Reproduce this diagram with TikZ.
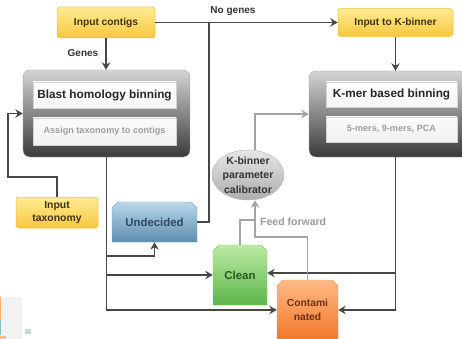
\documentclass[tikz,border=0pt]{standalone}
\usepackage{fontspec}
\setmainfont{Liberation Sans}
\usetikzlibrary{arrows.meta,shapes.geometric,shapes.misc,calc}
\definecolor{ytop}{HTML}{FFEB94}
\definecolor{ybot}{HTML}{F7C73E}
\definecolor{yedge}{HTML}{EDBE3A}
\definecolor{ytext}{HTML}{3E3414}
\definecolor{gtop}{HTML}{D4D4D4}
\definecolor{gbot}{HTML}{3A3A3A}
\definecolor{btop}{HTML}{B9D8EC}
\definecolor{bbot}{HTML}{5C8DB0}
\definecolor{btext}{HTML}{2C4A60}
\definecolor{ctop}{HTML}{BDEBA5}
\definecolor{cbot}{HTML}{5CB548}
\definecolor{ctext}{HTML}{2A5622}
\definecolor{otop}{HTML}{FFBA86}
\definecolor{obot}{HTML}{F27628}
\definecolor{otext}{HTML}{6E300C}
\definecolor{linedark}{HTML}{474747}
\definecolor{linegray}{HTML}{A3A3A3}
\definecolor{eltop}{HTML}{E6E6E6}
\definecolor{elbot}{HTML}{ADADAD}
\tikzset{
  yellowbox/.style={rectangle, rounded corners=3pt, top color=ytop, bottom color=ybot, draw=yedge, line width=0.5pt,
    text=ytext, font=\fontsize{10.2}{12.5}\selectfont\bfseries, align=center, inner sep=0pt},
  outerbox/.style={rectangle, rounded corners=7pt, top color=gtop, bottom color=gbot, draw=gray!70, line width=0.4pt, inner sep=0pt},
  titlebox/.style={rectangle, top color=white, bottom color=gray!8, draw=gray!35, line width=0.4pt, inner sep=0pt,
    text=black!85, font=\fontsize{11.8}{14}\selectfont\bfseries},
  subbox/.style={rectangle, top color=gray!3, bottom color=gray!12, draw=gray!35, line width=0.4pt, inner sep=0pt,
    text=gray!75, font=\fontsize{9.1}{11}\selectfont\bfseries},
  resultbox/.style={chamfered rectangle, chamfered rectangle corners={north west,north east},
    chamfered rectangle xsep=3pt, chamfered rectangle ysep=3pt, inner sep=0pt, align=center,
    font=\fontsize{11.4}{14.5}\selectfont\bfseries},
  calfont/.style={align=center, text=black!80, inner sep=0pt, font=\fontsize{10.5}{14.5}\selectfont\bfseries},
  conn/.style={draw=linedark, line width=1.9pt},
  arr/.style={conn, -{Stealth[length=7.5pt,width=8.5pt,inset=2.5pt]}},
  gconn/.style={draw=linegray, line width=1.9pt},
  garr/.style={gconn, -{Stealth[length=7.5pt,width=8.5pt,inset=2.5pt]}},
  lbl/.style={text=black!80, font=\fontsize{10}{12}\selectfont\bfseries, inner sep=0pt},
  glbl/.style={text=gray!80, font=\fontsize{10.5}{12}\selectfont\bfseries, inner sep=0pt},
}
\begin{document}
\begin{tikzpicture}[x=1pt,y=-1pt]
\clip (0,0) rectangle (462,339);
\fill[white] (0,0) rectangle (462,339);
% faint artifact at bottom left
\fill[gray!10] (0,297) rectangle (22,339);
\fill[orange!60] (0,297) rectangle (1.2,320);
\fill[teal!50] (0,320) rectangle (1.2,335);
\fill[orange!50] (0,336) rectangle (6,339);
\fill[teal!25] (25,329) rectangle (31,334);

% input boxes
\node[yellowbox, minimum width=98pt, minimum height=31pt] (ic) at (106,22.5) {Input contigs};
\node[yellowbox, minimum width=115pt, minimum height=28pt] (ik) at (395.5,22.5) {Input to K-binner};
\node[yellowbox, minimum width=82pt, minimum height=31pt, font=\fontsize{10.4}{13}\selectfont\bfseries] (tax) at (57,212.5) {Input\\taxonomy};

% blast box
\node[outerbox, minimum width=167pt, minimum height=87pt] (blast) at (106.5,113.5) {};
\node[titlebox, minimum width=143pt, minimum height=26pt] (blastt) at (104.5,95) {Blast homology binning};
\node[subbox, minimum width=143pt, minimum height=27pt] (blasts) at (104.5,131.5) {Assign taxonomy to contigs};

% kmer box
\node[outerbox, minimum width=166pt, minimum height=86pt] (kmer) at (392,114) {};
\node[titlebox, minimum width=131pt, minimum height=25pt] (kmert) at (391.5,94.5) {K-mer based binning};
\node[subbox, minimum width=131pt, minimum height=25pt] (kmers) at (391.5,129.5) {5-mers, 9-mers, PCA};

% calibrator
\node[ellipse, minimum width=72pt, minimum height=50pt, inner sep=0pt, top color=eltop, bottom color=elbot,
  draw=gray!55, line width=0.5pt,
  label={[calfont]center:K-binner\\parameter\\calibrator}] (ell) at (248,175) {};

% result boxes
\node[resultbox, minimum width=85pt, minimum height=40pt, top color=btop, bottom color=bbot, draw=bbot!80, text=btext] (und) at (154.5,222) {Undecided};
\node[resultbox, minimum width=54pt, minimum height=60pt, top color=ctop, bottom color=cbot, draw=cbot!80, text=ctext] (clean) at (240,275) {Clean};
\node[resultbox, minimum width=61pt, minimum height=60pt, top color=otop, bottom color=obot, draw=obot!80, text=otext,
  font=\fontsize{10.3}{14.5}\selectfont\bfseries] (cont) at (307.5,310) {Contami\\nated};

% labels
\node[lbl] (genesl) at (83,53) {Genes};
\node[lbl] (nogl) at (233,11) {No genes};
\node[glbl, anchor=west] (ffl) at (260,222) {Feed forward};

% coordinates for junctions
\coordinate (jx) at (209,22.5);
\coordinate (tl) at (8,177);
\coordinate (b1) at (106.5,256);
\coordinate (b2) at (106.5,275);
\coordinate (k1) at (395.5,273);
\coordinate (fx) at (255,0);
\coordinate (g1) at (255,237);
\coordinate (g2) at (255,220);

% dark connectors
\draw[arr] (ic.south) -- (ic.south |- blast.north);
\draw[arr] (ic.east) -- (ik.west);
\draw[conn] (und.east) -| (jx);
\draw[arr] (ik.south) -- (ik.south |- kmer.north);
\draw[arr] (tax.north) |- (tl) |- (blast.west);
\draw[arr] (blast.south) |- (cont.west);
\draw[arr] (b1) -| (und.south);
\draw[arr] (b2) -- (clean.west);
\draw[arr] (ik.south |- kmer.south) |- (cont.east);
\draw[arr] (k1) -- (k1 -| clean.east);

% gray connectors
\draw[garr] (ell.north -| fx) |- (kmer.west);
\draw[garr] (cont.north) |- (g1) -- (g1 |- ell.south);
\draw[gconn] (clean.north) |- (g2);
\end{tikzpicture}
\end{document}
